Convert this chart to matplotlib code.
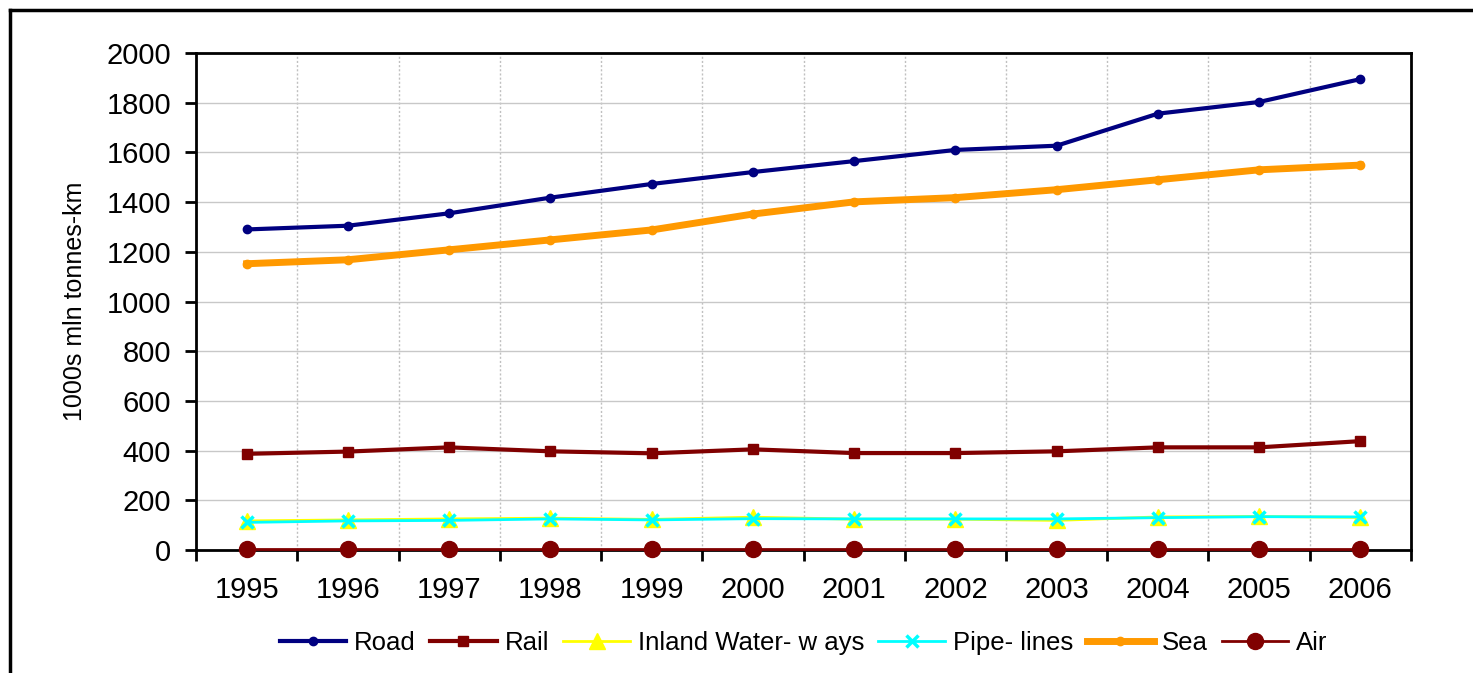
import numpy as np
import matplotlib.pyplot as plt
from matplotlib.lines import Line2D

plt.rcParams['font.family'] = ['Liberation Sans', 'DejaVu Sans']

years = ['1995', '1996', '1997', '1998', '1999', '2000',
         '2001', '2002', '2003', '2004', '2005', '2006']

road = [1290, 1305, 1355, 1418, 1473, 1521, 1565, 1610, 1627, 1756, 1803, 1895]
rail = [387, 396, 413, 397, 389, 405, 390, 390, 397, 413, 413, 438]
inland = [117, 121, 125, 128, 123, 132, 124, 124, 119, 133, 135, 131]
pipelines = [111, 117, 119, 125, 121, 126, 125, 125, 125, 130, 134, 133]
sea = [1152, 1168, 1208, 1248, 1288, 1352, 1401, 1418, 1450, 1490, 1530, 1549]
air = [2, 2, 2, 2, 2, 2, 2, 2, 2, 2, 2, 2]

fig = plt.figure(figsize=(14.73, 6.73), dpi=100)
ax = fig.add_axes([0.1331, 0.1828, 0.8248, 0.7384])

x = np.arange(len(years))

ax.plot(x, road, color='#000080', lw=3, marker='o', ms=6, label='Road', zorder=5)
ax.plot(x, rail, color='#800000', lw=3, marker='s', ms=6.5, label='Rail', zorder=5)
ax.plot(x, inland, color='#FFFF00', lw=2, marker='^', ms=11, label='Inland Water- w ays', zorder=4)
ax.plot(x, pipelines, color='#00FFFF', lw=2, marker='x', ms=9, mew=2.5, label='Pipe- lines', zorder=5)
ax.plot(x, sea, color='#FF9900', lw=5, marker='o', ms=6, label='Sea', zorder=5)
ax.plot(x, air, color='#800000', lw=2, marker='o', ms=11.5, label='Air', zorder=6, clip_on=False)

ax.set_xlim(-0.5, len(years) - 0.5)
ax.set_ylim(0, 2000)
ax.set_yticks(np.arange(0, 2001, 200))
ax.tick_params(axis='y', labelsize=21, length=8, width=2, direction='out', pad=10)

# category boundaries as major ticks, labels on minor ticks at centres
ax.set_xticks(np.arange(-0.5, len(years), 1.0))
ax.set_xticklabels([])
ax.set_xticks(x, minor=True)
ax.set_xticklabels(years, minor=True)
ax.tick_params(axis='x', which='major', length=8, width=2, direction='out')
ax.tick_params(axis='x', which='minor', length=0, labelsize=21, pad=19)

ax.grid(axis='y', color='#C8C8C8', lw=1, ls='-')
ax.grid(axis='x', which='major', color='#C0C0C0', lw=1, ls=(0, (1.5, 1.5)))
ax.set_axisbelow(True)

for s in ax.spines.values():
    s.set_linewidth(2)
    s.set_color('black')

ax.set_ylabel('1000s mln tonnes-km', fontsize=18, labelpad=14)

ax.legend(loc='center', bbox_to_anchor=(0.5, -0.187), ncol=6,
          frameon=False, fontsize=18.5, handlelength=2.6, columnspacing=0.55,
          handletextpad=0.3)

# outer chart border (left and top edges visible)
fig.add_artist(Line2D([10 / 1473, 10 / 1473], [0, 1 - 10 / 673], color='black', lw=2.5))
fig.add_artist(Line2D([10 / 1473, 1], [1 - 10 / 673, 1 - 10 / 673], color='black', lw=2.5))

fig.savefig('out.png', dpi=100)
